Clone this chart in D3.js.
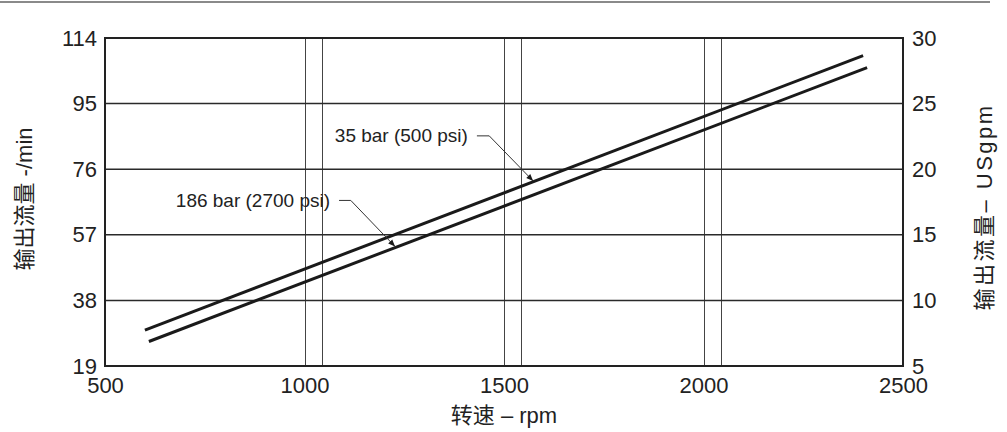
<!DOCTYPE html>
<html><head><meta charset="utf-8">
<script src="https://cdn.jsdelivr.net/npm/d3@7"></script>
<style>
body{margin:0;background:#fff;}
svg{display:block;font-family:"Liberation Sans",Arial,sans-serif;}
</style></head>
<body>
<svg id="c" width="1007" height="432"></svg>
<script>
const xTicks = [500, 1000, 1500, 2000, 2500];
const yLeftTicks = [19, 38, 57, 76, 95, 114];
const yRightTicks = [5, 10, 15, 20, 25, 30];
const vGrid = [1000, 1043, 1500, 1543, 2000, 2043];
const series35 = [[600, 29.4], [2400, 108.9]];
const series186 = [[610, 26.1], [2410, 105.4]];
const annotations = [
  {text: "35 bar (500 psi)", tx: 1076, ty: 85.8, anchor: "start", kx: 1463, target: [1573, 72.6]},
  {text: "186 bar (2700 psi)", tx: 1064, ty: 67.1, anchor: "end", kx: 1116, target: [1227, 53.6]}
];

const FONT = "'Liberation Sans','Noto Sans CJK SC',Arial,sans-serif";
const svg = d3.select("#c");
const L = 105, R = 903, T = 38, B = 366;
const x = d3.scaleLinear().domain([500, 2500]).range([L, R]);
const yL = d3.scaleLinear().domain([19, 114]).range([B, T]);
const yR = d3.scaleLinear().domain([5, 30]).range([B, T]);

// top rule
svg.append("line").attr("x1", 0).attr("x2", 990).attr("y1", 2).attr("y2", 2)
  .attr("stroke", "#8a8a8a").attr("stroke-width", 2);

// vertical grid
svg.append("g").selectAll("line").data(vGrid).join("line")
  .attr("x1", d => Math.round(x(d)) + 0.5).attr("x2", d => Math.round(x(d)) + 0.5)
  .attr("y1", T).attr("y2", B).attr("stroke", "#444").attr("stroke-width", 1);

// horizontal grid
svg.append("g").selectAll("line").data(yLeftTicks.slice(1, -1)).join("line")
  .attr("x1", L).attr("x2", R)
  .attr("y1", d => yL(d)).attr("y2", d => yL(d))
  .attr("stroke", "#2a2a2a").attr("stroke-width", 1.5);

// frame
svg.append("rect").attr("x", L).attr("y", T).attr("width", R - L).attr("height", B - T)
  .attr("fill", "none").attr("stroke", "#222").attr("stroke-width", 2);

// axes (labels only)
const axL = d3.axisLeft(yL).tickValues(yLeftTicks).tickSize(0).tickPadding(8);
const gL = svg.append("g").attr("transform", `translate(${L},0)`).call(axL);
const axR = d3.axisRight(yR).tickValues(yRightTicks).tickSize(0).tickPadding(9);
const gR = svg.append("g").attr("transform", `translate(${R},0)`).call(axR);
const axB = d3.axisBottom(x).tickValues(xTicks).tickSize(0).tickPadding(11).tickFormat(d3.format("d"));
const gB = svg.append("g").attr("transform", `translate(0,${B})`).call(axB);
[gL, gR, gB].forEach(g => {
  g.select(".domain").remove();
  g.attr("font-size", null).attr("font-family", null);
  g.selectAll("text").style("font-size", "22px").attr("fill", "#222")
    .style("font-family", FONT);
});

// series lines
const line = d3.line().x(d => x(d[0])).y(d => yL(d[1]));
[series35, series186].forEach(s => {
  svg.append("path").datum(s).attr("d", line).attr("fill", "none")
    .attr("stroke", "#1a1a1a").attr("stroke-width", 3);
});

// arrow marker
svg.append("defs").append("marker").attr("id", "arr")
  .attr("viewBox", "0 0 10 10").attr("refX", 10).attr("refY", 5)
  .attr("markerWidth", 8).attr("markerHeight", 7).attr("orient", "auto")
  .attr("markerUnits", "userSpaceOnUse")
  .append("path").attr("d", "M0,1 L10,5 L0,9 Z").attr("fill", "#1a1a1a");

annotations.forEach(a => {
  const t = svg.append("text").attr("x", x(a.tx)).attr("y", yL(a.ty))
    .attr("dy", "0.35em").attr("text-anchor", a.anchor)
    .style("font-size", "19px").style("font-family", FONT).attr("fill", "#222").text(a.text);
  const bb = t.node().getBBox();
  const sx = bb.x + bb.width + 9, sy = yL(a.ty) + 0.5;
  svg.append("path")
    .attr("d", `M${sx},${sy} L${x(a.kx)},${sy} L${x(a.target[0])},${yL(a.target[1])}`)
    .attr("fill", "none").attr("stroke", "#333").attr("stroke-width", 1)
    .attr("marker-end", "url(#arr)");
});

// axis titles
svg.append("text").attr("transform", `translate(24,199) rotate(-90)`)
  .attr("text-anchor", "middle").attr("dy", "0.35em").style("font-size", "22px").attr("fill", "#222")
  .style("font-family", FONT)
  .text("输出流量 -/min");
svg.append("text").attr("transform", `translate(984,207) rotate(-90)`)
  .attr("text-anchor", "middle").attr("dy", "0.35em").style("font-size", "22px").attr("fill", "#222")
  .style("font-family", FONT).style("letter-spacing", "2.5px")
  .text("输出流量– USgpm");
svg.append("text").attr("x", (L + R) / 2).attr("y", 423)
  .attr("text-anchor", "middle").style("font-size", "22px").attr("fill", "#222")
  .style("font-family", FONT)
  .text("转速 – rpm");
</script>
</body></html>
